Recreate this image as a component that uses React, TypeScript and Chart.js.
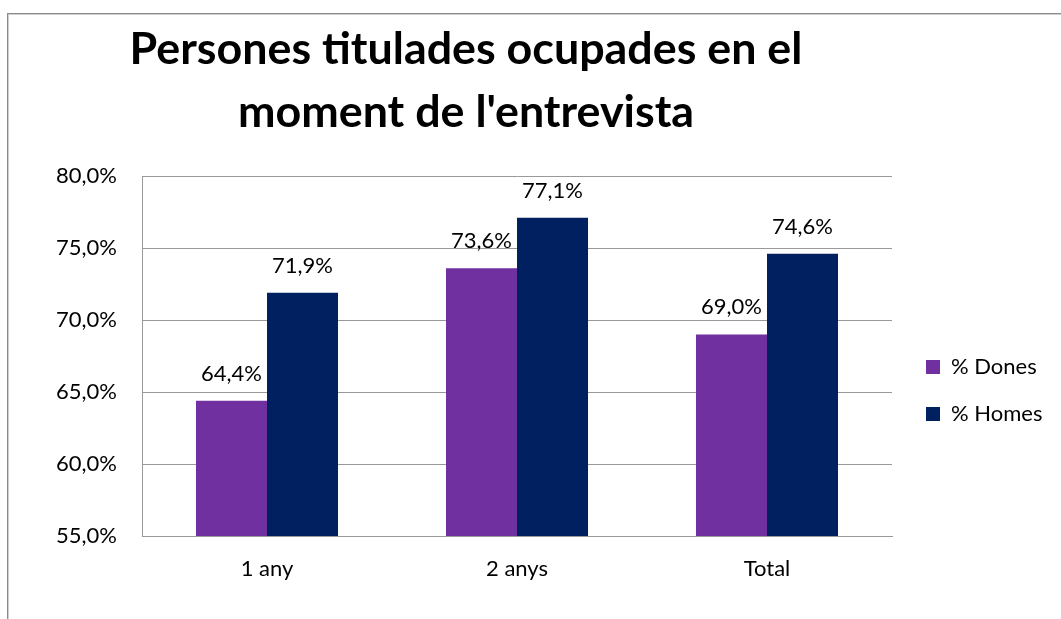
import React, { useEffect, useRef } from "react";
import { Chart, registerables } from "chart.js";

Chart.register(...registerables);

const TITLE_LINES = ["Persones titulades ocupades en el", "moment de l'entrevista"];
const CATEGORIES = ["1 any", "2 anys", "Total"];
const SERIES_NAMES = ["% Dones", "% Homes"];
const DONES = [64.4, 73.6, 69.0];
const HOMES = [71.9, 77.1, 74.6];
const COLORS = ["#7030A0", "#002060"];
const Y_MIN = 55;
const Y_MAX = 80;
const Y_STEP = 5;

const FONT = "Lato";
const FS = 22;
const fmt = (v: number) => v.toFixed(1).replace(".", ",") + "%";

export default function App() {
  const ref = useRef<HTMLCanvasElement | null>(null);

  useEffect(() => {
    if (!ref.current) return;
    const m = document.createElement("canvas").getContext("2d")!;
    m.font = `bold 48px ${FONT}`;
    const titleSize = (48 * 673) / m.measureText(TITLE_LINES[0]).width;
    m.font = `${FS}px ${FONT}`;
    const textW = Math.max(...SERIES_NAMES.map((s) => m.measureText(s).width));
    const legPad = 47 - FS;
    const legW = legPad + 14 + FS / 2 + textW + 10;
    const legLeft = 926 - legPad;
    const padRight = Math.max(0, 1061 - legLeft - legW);
    const spacer = legLeft - 892;
    const padTop = 176;
    // first legend item centre at ~367
    const padBottom = padTop + legPad + 619 - 2 * (FS + legPad) - 2 * (367 - FS / 2);

    const titlePlugin = {
      id: "titleText",
      afterDraw(chart: any) {
        const ctx = chart.ctx;
        ctx.save();
        ctx.fillStyle = "#000";
        ctx.textAlign = "center";
        ctx.textBaseline = "alphabetic";
        ctx.font = `bold ${titleSize}px ${FONT}`;
        TITLE_LINES.forEach((t, i) => ctx.fillText(t, 466, 64 + i * 63));
        ctx.restore();
      },
    };

    const labelPlugin = {
      id: "valueLabels",
      afterDatasetsDraw(chart: any) {
        const ctx = chart.ctx;
        ctx.save();
        ctx.fillStyle = "#000";
        ctx.textAlign = "center";
        ctx.textBaseline = "alphabetic";
        ctx.font = `${FS}px ${FONT}`;
        chart.data.datasets.forEach((ds: any, i: number) => {
          chart.getDatasetMeta(i).data.forEach((bar: any, j: number) => {
            ctx.fillText(fmt(ds.data[j]), bar.x, bar.y - 20);
          });
        });
        ctx.restore();
      },
    };

    const chart = new Chart(ref.current, {
      type: "bar",
      data: {
        labels: CATEGORIES,
        datasets: [
          { label: SERIES_NAMES[0], data: DONES, backgroundColor: COLORS[0], borderWidth: 0 },
          { label: SERIES_NAMES[1], data: HOMES, backgroundColor: COLORS[1], borderWidth: 0 },
        ],
      },
      options: {
        responsive: false,
        animation: false,
        layout: { padding: { top: padTop, bottom: padBottom, left: 0, right: padRight } },
        datasets: { bar: { categoryPercentage: 0.568, barPercentage: 1 } } as any,
        plugins: {
          title: { display: false },
          tooltip: { enabled: false },
          legend: {
            position: "right",
            labels: {
              boxWidth: 14,
              boxHeight: 14,
              padding: legPad,
              color: "#000",
              font: { family: FONT, size: FS },
            },
          },
        },
        scales: {
          x: {
            grid: { display: false, drawTicks: false },
            border: { color: "#999", width: 1 },
            ticks: { color: "#000", padding: 20, font: { family: FONT, size: FS } },
            afterFit: (s: any) => {
              s.height = 619 - padBottom - 536;
            },
          },
          y: {
            min: Y_MIN,
            max: Y_MAX,
            ticks: {
              stepSize: Y_STEP,
              color: "#000",
              padding: 25,
              font: { family: FONT, size: FS },
              callback: (v: any) => fmt(Number(v)),
            },
            grid: { color: "#999", lineWidth: 1, drawTicks: false },
            border: { color: "#999", width: 1 },
            afterFit: (s: any) => {
              s.width = 142;
            },
          },
          yR: {
            type: "linear",
            position: "right",
            display: true,
            grid: { display: false, drawTicks: false },
            border: { display: false },
            ticks: { display: false },
            afterFit: (s: any) => {
              s.width = spacer;
            },
          },
        },
      } as any,
      plugins: [titlePlugin, labelPlugin],
    });
    return () => chart.destroy();
  }, []);

  return (
    <div
      style={{
        position: "fixed",
        left: 0,
        top: 0,
        width: 1061,
        height: 619,
        overflow: "hidden",
        background: "#fff",
      }}
    >
      <div
        style={{
          position: "absolute",
          left: 7,
          top: 13,
          width: 3000,
          height: 3000,
          borderLeft: "1px solid #8a8a8a",
          borderTop: "1px solid #8a8a8a",
          boxShadow: "inset 1px 1px 0 #cfcfcf",
        }}
      />
      <canvas
        ref={ref}
        width={1061}
        height={619}
        style={{ position: "absolute", left: 0, top: 0, width: 1061, height: 619 }}
      />
    </div>
  );
}
